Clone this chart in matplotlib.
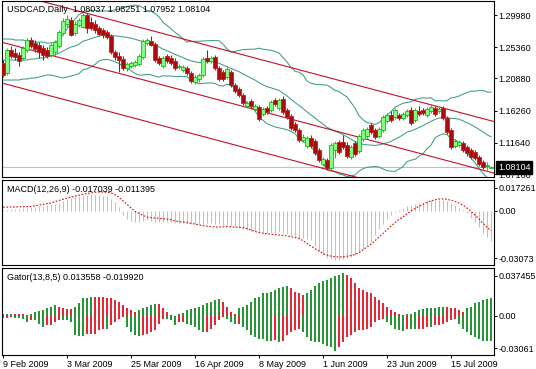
import numpy as np
import pandas as pd
import matplotlib
matplotlib.use("Agg")
import matplotlib.pyplot as plt
from matplotlib.transforms import blended_transform_factory as btf, offset_copy

plt.rcParams['font.family'] = ['Liberation Sans', 'DejaVu Sans']

# ---------------- data ----------------
opens = [1.2309,1.2165,1.2495,1.2452,1.2424,1.2381,1.2495,1.2639,1.2596,1.2567,
 1.2524,1.2495,1.2424,1.2467,1.2553,1.2739,1.2869,1.2926,1.2739,1.2854,
 1.2826,1.2998,1.2897,1.2869,1.2811,1.2783,1.2754,1.2696,1.2467,1.2409,
 1.2366,1.2237,1.2266,1.2280,1.2295,1.2395,1.2596,1.2625,1.2582,1.2381,
 1.2266,1.2409,1.2381,1.2338,1.2252,1.2209,1.2237,1.2165,1.2036,1.2079,
 1.2137,1.2381,1.2338,1.2395,1.2237,1.2180,1.2108,1.2180,1.1993,1.1936,
 1.1850,1.1692,1.1764,1.1649,1.1678,1.1577,1.1663,1.1635,1.1778,1.1663,
 1.1792,1.1635,1.1548,1.1434,1.1348,1.1204,1.1118,1.1233,1.1190,1.1061,
 1.0860,1.0917,1.0802,1.1061,1.1175,1.1175,1.1132,1.0960,1.1161,1.1046,
 1.1218,1.1261,1.1419,1.1348,1.1261,1.1348,1.1477,1.1563,1.1534,1.1563,
 1.1520,1.1563,1.1635,1.1491,1.1620,1.1635,1.1563,1.1620,1.1663,1.1620,
 1.1663,1.1520,1.1348,1.1118,1.1132,1.1161,1.1104,1.1061,1.1032,1.0960,
 1.0888,1.0831,1.08037]
highs = [1.2352,1.2524,1.2553,1.2524,1.2467,1.2553,1.2668,1.2682,1.2639,1.2610,
 1.2567,1.2539,1.2596,1.2639,1.2783,1.2955,1.2998,1.2969,1.2912,1.2955,
 1.3026,1.3026,1.2969,1.2926,1.2840,1.2811,1.2783,1.2725,1.2495,1.2467,
 1.2409,1.2323,1.2338,1.2352,1.2438,1.2653,1.2668,1.2696,1.2610,1.2409,
 1.2409,1.2438,1.2424,1.2381,1.2295,1.2280,1.2266,1.2194,1.2137,1.2165,
 1.2395,1.2495,1.2409,1.2424,1.2266,1.2209,1.2252,1.2209,1.2022,1.1965,
 1.1878,1.1764,1.1792,1.1721,1.1706,1.1678,1.1692,1.1778,1.1807,1.1807,
 1.1835,1.1663,1.1577,1.1462,1.1376,1.1290,1.1261,1.1276,1.1218,1.1089,
 1.0960,1.0946,1.1161,1.1190,1.1204,1.1276,1.1175,1.1132,1.1190,1.1290,
 1.1376,1.1391,1.1448,1.1376,1.1391,1.1563,1.1591,1.1620,1.1663,1.1591,
 1.1606,1.1649,1.1678,1.1663,1.1692,1.1663,1.1678,1.1721,1.1692,1.1678,
 1.1692,1.1548,1.1376,1.1218,1.1204,1.1190,1.1132,1.1089,1.1061,1.0989,
 1.0917,1.0888,1.08251]
lows = [1.2108,1.2137,1.2381,1.2352,1.2266,1.2352,1.2467,1.2524,1.2467,1.2381,
 1.2352,1.2381,1.2395,1.2424,1.2524,1.2711,1.2826,1.2696,1.2711,1.2826,
 1.2811,1.2739,1.2783,1.2739,1.2696,1.2668,1.2653,1.2438,1.2352,1.2180,
 1.2209,1.2194,1.2237,1.2252,1.2266,1.2366,1.2567,1.2553,1.2323,1.2280,
 1.2237,1.2309,1.2280,1.2209,1.2223,1.2180,1.2137,1.2022,1.2008,1.2036,
 1.2108,1.2309,1.2309,1.2209,1.2051,1.2051,1.2079,1.1965,1.1878,1.1821,
 1.1706,1.1663,1.1663,1.1620,1.1477,1.1548,1.1577,1.1606,1.1692,1.1635,
 1.1577,1.1505,1.1348,1.1319,1.1175,1.1175,1.1089,1.1089,1.0989,1.0888,
 1.0831,1.0774,1.0774,1.0946,1.1003,1.1075,1.0946,1.0931,1.0974,1.1017,
 1.1190,1.1233,1.1290,1.1218,1.1233,1.1319,1.1448,1.1462,1.1505,1.1491,
 1.1491,1.1534,1.1419,1.1462,1.1548,1.1563,1.1534,1.1591,1.1548,1.1591,
 1.1491,1.1290,1.1075,1.1089,1.1104,1.1032,1.0974,1.0931,1.0917,1.0831,
 1.0788,1.0774,1.07952]
closes = [1.2137,1.2495,1.2409,1.2395,1.2338,1.2524,1.2639,1.2553,1.2510,1.2467,
 1.2424,1.2409,1.2567,1.2610,1.2754,1.2912,1.2940,1.2711,1.2869,1.2926,
 1.2998,1.2811,1.2811,1.2783,1.2725,1.2711,1.2682,1.2467,1.2395,1.2352,
 1.2237,1.2295,1.2309,1.2323,1.2409,1.2625,1.2639,1.2567,1.2352,1.2309,
 1.2381,1.2338,1.2309,1.2237,1.2266,1.2252,1.2165,1.2051,1.2108,1.2137,
 1.2366,1.2338,1.2381,1.2237,1.2079,1.2079,1.2223,1.1993,1.1907,1.1850,
 1.1735,1.1735,1.1692,1.1692,1.1505,1.1649,1.1606,1.1749,1.1721,1.1778,
 1.1606,1.1534,1.1376,1.1348,1.1204,1.1247,1.1233,1.1118,1.1017,1.0917,
 1.0931,1.0802,1.1132,1.1161,1.1032,1.1104,1.0974,1.1104,1.1003,1.1261,
 1.1348,1.1362,1.1319,1.1247,1.1362,1.1534,1.1563,1.1491,1.1635,1.1520,
 1.1577,1.1620,1.1448,1.1635,1.1577,1.1591,1.1649,1.1678,1.1577,1.1649,
 1.1520,1.1319,1.1104,1.1190,1.1175,1.1061,1.1017,1.0960,1.0946,1.0860,
 1.0817,1.0845,1.08104]

# Bollinger band values for the first 19 bars (history before the window)
bb_upper_head = [1.2653,1.2653,1.2653,1.2639,1.2639,1.2639,1.2625,1.2625,1.2610,1.2610,
 1.2610,1.2596,1.2596,1.2610,1.2639,1.2711,1.2797,1.2869,1.2940]
bb_mid_head = [1.2352,1.2352,1.2352,1.2352,1.2352,1.2352,1.2352,1.2366,1.2366,1.2381,
 1.2381,1.2395,1.2409,1.2424,1.2452,1.2481,1.2510,1.2539,1.2553]
bb_lower_head = [1.2065,1.2065,1.2065,1.2065,1.2065,1.2079,1.2079,1.2094,1.2094,1.2108,
 1.2122,1.2137,1.2137,1.2122,1.2108,1.2094,1.2108,1.2122,1.2137]

# channel lines: price at first and last bar
chan_upper = [1.3342, 1.1480]
chan_mid = [1.2603, 1.0740]
chan_lower = [1.2018, 1.0155]

macd_main = [0.0003,0.0005,0.0008,0.0009,0.0010,0.0012,0.0016,0.0020,0.0022,0.0024,
 0.0026,0.0030,0.0035,0.0039,0.0045,0.0055,0.0064,0.0070,0.0076,0.0082,
 0.0088,0.0090,0.0091,0.0090,0.0088,0.0085,0.0080,0.0068,0.0048,0.0022,
 -0.0025,-0.0048,-0.0058,-0.0062,-0.0063,-0.0058,-0.0055,-0.0057,-0.0062,-0.0065,
 -0.0064,-0.0065,-0.0066,-0.0068,-0.0068,-0.0068,-0.0070,-0.0074,-0.0076,-0.0077,
 -0.0073,-0.0072,-0.0070,-0.0073,-0.0078,-0.0082,-0.0082,-0.0087,-0.0093,-0.0099,
 -0.0106,-0.0110,-0.0113,-0.0116,-0.0122,-0.0124,-0.0126,-0.0125,-0.0124,-0.0122,
 -0.0125,-0.0130,-0.0138,-0.0145,-0.0153,-0.0157,-0.0160,-0.0166,-0.0200,-0.0230,
 -0.0250,-0.0265,-0.0275,-0.0280,-0.0278,-0.0272,-0.0268,-0.0260,-0.0252,-0.0238,
 -0.0215,-0.0195,-0.0175,-0.0140,-0.0105,-0.0075,-0.0045,-0.0025,-0.0010,0.0005,
 0.0015,0.0025,0.0030,0.0038,0.0045,0.0050,0.0055,0.0058,0.0060,0.0061,
 0.0060,0.0055,0.0045,0.0030,0.0015,0.0005,-0.0015,-0.0040,-0.0065,-0.0095,
 -0.0125,-0.0150,-0.0170]
macd_signal = [0.0019,0.0020,0.0020,0.0021,0.0021,0.0022,0.0022,0.0023,0.0027,0.0031,
 0.0035,0.0039,0.0043,0.0050,0.0057,0.0064,0.0070,0.0076,0.0082,0.0087,
 0.0092,0.0096,0.0100,0.0103,0.0105,0.0105,0.0103,0.0100,0.0090,0.0075,
 0.0055,0.0035,0.0015,-0.0005,-0.0015,-0.0028,-0.0036,-0.0040,-0.0042,-0.0044,
 -0.0046,-0.0048,-0.0052,-0.0058,-0.0062,-0.0064,-0.0068,-0.0072,-0.0076,-0.0081,
 -0.0085,-0.0088,-0.0091,-0.0093,-0.0093,-0.0092,-0.0090,-0.0092,-0.0094,-0.0094,
 -0.0096,-0.0102,-0.0110,-0.0118,-0.0124,-0.0128,-0.0131,-0.0134,-0.0136,-0.0138,
 -0.0140,-0.0143,-0.0147,-0.0152,-0.0158,-0.0170,-0.0185,-0.0200,-0.0215,-0.0228,
 -0.0243,-0.0251,-0.0257,-0.0261,-0.0262,-0.0261,-0.0258,-0.0254,-0.0248,-0.0238,
 -0.0222,-0.0205,-0.0190,-0.0170,-0.0150,-0.0130,-0.0108,-0.0088,-0.0068,-0.0050,
 -0.0036,-0.0018,-0.0002,0.0012,0.0024,0.0035,0.0046,0.0055,0.0061,0.0065,
 0.0066,0.0064,0.0058,0.0052,0.0042,0.0030,0.0014,-0.0005,-0.0025,-0.0048,
 -0.0072,-0.0094,-0.0114]

gator_upper = [0.0011,0.0016,0.0018,0.0016,0.0013,0.0011,0.0005,0.0018,0.0032,0.0037,
 0.0045,0.0058,0.0071,0.0084,0.0071,0.0058,0.0057,0.0056,0.0071,0.0098,
 0.0137,0.0143,0.0150,0.0149,0.0148,0.0147,0.0143,0.0137,0.0124,0.0111,
 0.0084,0.0063,0.0045,0.0032,0.0045,0.0058,0.0071,0.0084,0.0090,0.0089,
 0.0058,0.0032,0.0005,0.0002,0.0011,0.0026,0.0045,0.0053,0.0058,0.0071,
 0.0084,0.0098,0.0111,0.0124,0.0129,0.0111,0.0071,0.0032,0.0018,0.0058,
 0.0071,0.0084,0.0111,0.0137,0.0150,0.0177,0.0178,0.0190,0.0203,0.0216,
 0.0222,0.0230,0.0216,0.0190,0.0177,0.0164,0.0177,0.0203,0.0230,0.0256,
 0.0269,0.0282,0.0296,0.0309,0.0322,0.0335,0.0322,0.0296,0.0256,0.0216,
 0.0203,0.0190,0.0177,0.0150,0.0124,0.0098,0.0071,0.0045,0.0032,0.0018,
 0.0005,0.0011,0.0018,0.0032,0.0045,0.0053,0.0058,0.0059,0.0063,0.0071,
 0.0072,0.0071,0.0063,0.0058,0.0045,0.0032,0.0058,0.0071,0.0098,0.0111,
 0.0124,0.0129,0.0136]
gator_lower = [-0.0016,-0.0013,-0.0011,-0.0013,-0.0016,-0.0021,-0.0048,-0.0034,-0.0035,-0.0061,
 -0.0087,-0.0074,-0.0073,-0.0048,-0.0034,-0.0035,-0.0036,-0.0048,-0.0153,-0.0154,
 -0.0155,-0.0140,-0.0139,-0.0138,-0.0114,-0.0100,-0.0101,-0.0074,-0.0048,-0.0021,
 -0.0008,-0.0087,-0.0127,-0.0153,-0.0154,-0.0152,-0.0140,-0.0127,-0.0114,-0.0061,
 -0.0021,-0.0022,-0.0034,-0.0074,-0.0048,-0.0047,-0.0061,-0.0074,-0.0087,-0.0114,
 -0.0127,-0.0126,-0.0100,-0.0074,-0.0034,-0.0008,-0.0021,-0.0048,-0.0061,-0.0060,
 -0.0087,-0.0114,-0.0153,-0.0166,-0.0180,-0.0181,-0.0193,-0.0194,-0.0192,-0.0206,
 -0.0193,-0.0153,-0.0127,-0.0114,-0.0100,-0.0127,-0.0166,-0.0193,-0.0206,-0.0207,
 -0.0219,-0.0232,-0.0246,-0.0272,-0.0246,-0.0206,-0.0166,-0.0153,-0.0127,-0.0114,
 -0.0113,-0.0100,-0.0087,-0.0048,-0.0034,-0.0021,-0.0048,-0.0074,-0.0100,-0.0114,
 -0.0115,-0.0100,-0.0101,-0.0102,-0.0101,-0.0100,-0.0087,-0.0088,-0.0074,-0.0073,
 -0.0061,-0.0048,-0.0034,-0.0021,-0.0061,-0.0100,-0.0127,-0.0153,-0.0166,-0.0180,
 -0.0193,-0.0195,-0.0199]

price_ticks = [1.29980, 1.25360, 1.20880, 1.16260, 1.11640, 1.07160]
price_tick_labels = ['1.29980', '1.25360', '1.20880', '1.16260', '1.11640', '1.07160']
bid = 1.08104
date_labels = ['9 Feb 2009', '3 Mar 2009', '25 Mar 2009', '16 Apr 2009',
               '8 May 2009', '1 Jun 2009', '23 Jun 2009', '15 Jul 2009']
date_bars = [0, 16, 32, 48, 64, 80, 96, 112]
main_title = 'USDCAD,Daily  1.08037 1.08251 1.07952 1.08104'
macd_title = 'MACD(12,26,9) -0.017039 -0.011395'
gator_title = 'Gator(13,8,5) 0.013558 -0.019920'
macd_range = (-0.03073, 0.017261)
gator_range = (-0.03061, 0.037455)

# ---------------- figure ----------------
W, H = 536, 369
fig = plt.figure(figsize=(W / 100, H / 100), dpi=100)
fig.patch.set_facecolor('white')


def rect(x0, y0, x1, y1):
    return [x0 / W, 1 - y1 / H, (x1 - x0) / W, (y1 - y0) / H]


ax_main = fig.add_axes(rect(2, 1, 494, 177))
ax_macd = fig.add_axes(rect(2, 180, 494, 265))
ax_gat = fig.add_axes(rect(2, 268, 494, 355))

n = len(closes)
x = np.arange(n)
o = np.array(opens); c = np.array(closes); hi = np.array(highs); lo = np.array(lows)

FS = 6.5
for ax in (ax_main, ax_macd, ax_gat):
    ax.set_xlim(-0.25, n - 0.25)
    for s in ax.spines.values():
        s.set_linewidth(0.8)
        s.set_color('black')
    ax.yaxis.tick_right()
    ax.tick_params(axis='y', direction='out', length=2.2, width=0.7, pad=1.0,
                   labelsize=FS, colors='black')
    ax.tick_params(axis='x', bottom=False, labelbottom=False)

# ---- main panel ----
ax_main.set_ylim(1.0673, 1.3199)
ax_main.set_yticks(price_ticks)
ax_main.set_yticklabels(price_tick_labels)

ax_main.axhline(bid, color='#c0c0c0', lw=0.8, zorder=1)

# Bollinger bands
cs = pd.Series(c)
mid = cs.rolling(20).mean().to_numpy()
sd = cs.rolling(20).std(ddof=0).to_numpy()
bb_u = mid + 2 * sd
bb_l = mid - 2 * sd
k = len(bb_upper_head)
bb_u[:k] = bb_upper_head
mid[:k] = bb_mid_head
bb_l[:k] = bb_lower_head
bbc = '#3f9c84'
for arr in (bb_u, mid, bb_l):
    ax_main.plot(x, arr, color=bbc, lw=0.75, zorder=2)

# channel
xl = np.array([-0.25, n - 0.25])
for ch in (chan_upper, chan_mid, chan_lower):
    slope = (ch[1] - ch[0]) / (n - 1)
    ax_main.plot(xl, ch[0] + slope * xl, color='#c0102a', lw=0.8, zorder=2)

# candles
up = c >= o
wick_col = np.where(up, '#20c020', '#b01010')
ax_main.vlines(x, lo, hi, colors=wick_col, lw=0.75, zorder=3)
body_b = np.minimum(o, c)
body_h = np.maximum(np.abs(c - o), 0.0006)
ax_main.bar(x[up], body_h[up], bottom=body_b[up], width=0.8,
            color='#80ff80', edgecolor='#18b818', lw=0.6, zorder=4)
ax_main.bar(x[~up], body_h[~up], bottom=body_b[~up], width=0.8,
            color='#a80c0c', edgecolor='#c82020', lw=0.6, zorder=4)

# bid label
tr = offset_copy(btf(ax_main.transAxes, ax_main.transData), fig=fig, x=4, y=0, units='dots')
ax_main.text(1.0, bid, '1.08104', transform=tr, ha='left', va='center', fontsize=FS,
             color='white', clip_on=False, zorder=10,
             bbox=dict(boxstyle='square,pad=0.18', fc='black', ec='black'))

fig.text(7 / W, 1 - 10 / H, main_title, fontsize=FS, ha='left', va='center')

# ---- MACD ----
ax_macd.set_ylim(*macd_range)
ax_macd.vlines(x, 0, macd_main, colors='#c0c0c0', lw=0.75, zorder=2)
ax_macd.plot(x, macd_signal, color='#d01010', lw=0.8, ls=(0, (1.5, 1.5)), zorder=3)
span = macd_range[1] - macd_range[0]
ax_macd.set_yticks([macd_range[1] - span * 7.7 / 85, 0.0, macd_range[0] + span * 6.7 / 85])
ax_macd.set_yticklabels(['0.017261', '0.00', '-0.03073'])
fig.text(7 / W, 1 - 190 / H, macd_title, fontsize=FS, ha='left', va='center')

# ---- Gator ----
gu = np.array(gator_upper); gl = np.array(gator_lower)
gu_col = ['#e01020' if i > 0 and gu[i] < gu[i - 1] else '#108a20' for i in range(n)]
gl_col = ['#e01020' if i > 0 and abs(gl[i]) < abs(gl[i - 1]) else '#108a20' for i in range(n)]
ax_gat.set_ylim(*gator_range)
ax_gat.vlines(x, 0, gu, colors=gu_col, lw=1.3)
ax_gat.vlines(x, gl, 0, colors=gl_col, lw=1.3)
gspan = gator_range[1] - gator_range[0]
ax_gat.set_yticks([gator_range[1] - gspan * 7.7 / 87, 0.0, gator_range[0] + gspan * 6.7 / 87])
ax_gat.set_yticklabels(['0.037455', '0.00', '-0.03061'])
fig.text(7 / W, 1 - 278 / H, gator_title, fontsize=FS, ha='left', va='center')

ax_gat.set_xticks(date_bars)
ax_gat.set_xticklabels(date_labels, ha='left')
ax_gat.tick_params(axis='x', bottom=True, labelbottom=True, direction='out',
                   length=2.2, width=0.7, pad=1.2, labelsize=FS)

fig.savefig('out.png', dpi=100, facecolor='white')
